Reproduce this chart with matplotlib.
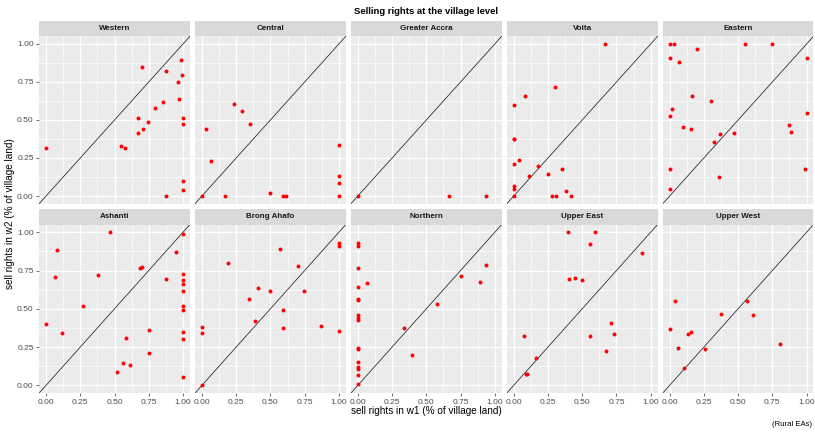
import numpy as np
import matplotlib
matplotlib.use("Agg")
import matplotlib.pyplot as plt

plt.rcParams['font.family'] = ['Liberation Sans', 'DejaVu Sans']

# region names, in facet order
regions = ["Western", "Central", "Greater Accra", "Volta", "Eastern",
           "Ashanti", "Brong Ahafo", "Northern", "Upper East", "Upper West"]

# sell rights share, wave 1 (x) and wave 2 (y)
western_w1 = [0.0, 0.70, 0.873, 0.983, 0.995, 0.961, 0.968, 1.0, 1.0, 0.851,
              0.793, 0.746, 0.671, 0.710, 0.668, 0.546, 0.580, 1.0, 1.0, 0.876]
western_w2 = [0.318, 0.849, 0.825, 0.893, 0.798, 0.752, 0.636, 0.513, 0.476, 0.616,
              0.581, 0.487, 0.511, 0.439, 0.412, 0.327, 0.318, 0.101, 0.039, 0.0]

central_w1 = [0.0, 0.029, 0.063, 0.165, 0.231, 0.294, 0.352, 0.498, 0.595, 0.614,
              1.0, 1.0, 1.0, 1.0]
central_w2 = [0.0, 0.439, 0.228, 0.0, 0.605, 0.561, 0.476, 0.022, 0.0, 0.0,
              0.336, 0.134, 0.083, 0.0]

accra_w1 = [0.0, 0.669, 0.939]
accra_w2 = [0.0, 0.0, 0.0]

volta_w1 = [0.663, 0.298, 0.085, 0.0, 0.0, 0.0, 0.036, 0.0, 0.179, 0.351,
            0.247, 0.109, 0.0, 0.0, 0.0, 0.278, 0.312, 0.385, 0.416]
volta_w2 = [1.0, 0.715, 0.660, 0.601, 0.377, 0.373, 0.237, 0.208, 0.195, 0.180,
            0.143, 0.134, 0.064, 0.044, 0.0, 0.0, 0.0, 0.031, 0.0]

eastern_w1 = [0.0, 0.034, 0.197, 0.552, 0.749, 0.0, 0.071, 1.0, 0.163, 0.302,
              0.015, 0.0, 1.0, 0.097, 0.153, 0.873, 0.886, 0.367, 0.472, 0.326,
              0.0, 0.990, 0.358, 0.0]
eastern_w2 = [1.0, 1.0, 0.969, 1.0, 1.0, 0.906, 0.879, 0.906, 0.660, 0.627,
              0.575, 0.529, 0.546, 0.452, 0.443, 0.465, 0.421, 0.408, 0.412, 0.357,
              0.180, 0.180, 0.125, 0.048]

ashanti_w1 = [0.467, 1.0, 0.083, 0.949, 0.068, 0.382, 0.686, 0.703, 1.0, 1.0,
              1.0, 1.0, 0.873, 0.273, 1.0, 1.0, 0.0, 0.117, 0.749, 1.0,
              0.582, 1.0, 0.749, 0.564, 0.616, 0.518, 1.0]
ashanti_w2 = [1.0, 0.989, 0.885, 0.869, 0.710, 0.721, 0.767, 0.771, 0.730, 0.686,
              0.664, 0.619, 0.695, 0.516, 0.516, 0.490, 0.401, 0.342, 0.359, 0.346,
              0.307, 0.303, 0.214, 0.146, 0.133, 0.087, 0.052]

brong_w1 = [0.0, 0.0, 0.0, 0.192, 0.569, 0.703, 1.0, 1.0, 0.409, 0.494,
            0.345, 0.745, 0.589, 0.384, 0.589, 0.873, 1.0]
brong_w2 = [0.0, 0.383, 0.344, 0.797, 0.889, 0.780, 0.928, 0.913, 0.634, 0.619,
            0.564, 0.614, 0.490, 0.418, 0.375, 0.388, 0.353]

northern_w1 = [0.0] * 16 + [0.068, 0.337, 0.398, 0.580, 0.755, 0.893, 0.939]
northern_w2 = [0.932, 0.908, 0.767, 0.643, 0.562, 0.556, 0.458, 0.442, 0.427, 0.246,
               0.240, 0.150, 0.122, 0.109, 0.070, 0.011,
               0.669, 0.373, 0.196, 0.534, 0.712, 0.678, 0.784]

ueast_w1 = [0.398, 0.597, 0.556, 0.939, 0.403, 0.447, 0.495, 0.709, 0.735, 0.558,
            0.075, 0.677, 0.160, 0.095, 0.088]
ueast_w2 = [1.0, 1.0, 0.924, 0.865, 0.695, 0.701, 0.691, 0.405, 0.338, 0.320,
            0.325, 0.222, 0.181, 0.076, 0.074]

uwest_w1 = [0.039, 0.564, 0.377, 0.606, 0.0, 0.158, 0.131, 0.058, 0.255, 0.808, 0.102]
uwest_w2 = [0.551, 0.551, 0.468, 0.460, 0.366, 0.346, 0.333, 0.244, 0.235, 0.272, 0.111]

xs = [western_w1, central_w1, accra_w1, volta_w1, eastern_w1,
      ashanti_w1, brong_w1, northern_w1, ueast_w1, uwest_w1]
ys = [western_w2, central_w2, accra_w2, volta_w2, eastern_w2,
      ashanti_w2, brong_w2, northern_w2, ueast_w2, uwest_w2]

ticks = [0.0, 0.25, 0.5, 0.75, 1.0]
tick_labels = ["0.00", "0.25", "0.50", "0.75", "1.00"]

W, H = 815, 432
fig = plt.figure(figsize=(W / 100, H / 100), dpi=100)

# layout in pixels
lefts = [39.2 + i * 155.9 for i in range(5)]
pw = 150.6
rows = [(21.0, 36.4, 203.6), (209.0, 224.6, 393.0)]  # strip top, panel top, panel bottom

def px(l, t, w, h):
    return [l / W, 1 - (t + h) / H, w / W, h / H]

for k, name in enumerate(regions):
    r, c = divmod(k, 5)
    st, pt, pb = rows[r]
    ax = fig.add_axes(px(lefts[c], pt, pw, pb - pt))
    ax.set_facecolor("#EBEBEB")
    for s in ax.spines.values():
        s.set_visible(False)
    ax.set_xlim(-0.05, 1.05)
    ax.set_ylim(-0.05, 1.05)
    ax.set_xticks(ticks)
    ax.set_yticks(ticks)
    minor = [0.125, 0.375, 0.625, 0.875]
    ax.set_xticks(minor, minor=True)
    ax.set_yticks(minor, minor=True)
    ax.grid(which="major", color="white", lw=0.9)
    ax.grid(which="minor", color="white", lw=0.45)
    ax.set_axisbelow(True)
    ax.tick_params(which="minor", length=0)
    ax.tick_params(which="major", length=2.5, width=0.5, color="#333333",
                   labelsize=6.0, labelcolor="#4D4D4D", pad=1.5)
    if c == 0:
        ax.set_yticklabels(tick_labels)
    else:
        ax.tick_params(axis="y", length=0, labelleft=False)
    if r == 1:
        ax.set_xticklabels(tick_labels)
    else:
        ax.tick_params(axis="x", length=0, labelbottom=False)

    ax.plot([-0.05, 1.05], [-0.05, 1.05], color="#222222", lw=0.55, zorder=2)
    ax.scatter(xs[k], ys[k], s=8, color="red", linewidths=0, zorder=3)

    # facet strip
    sax = fig.add_axes(px(lefts[c], st, pw, pt - st))
    sax.set_facecolor("#D9D9D9")
    sax.set_xticks([])
    sax.set_yticks([])
    for s in sax.spines.values():
        s.set_visible(False)
    sax.text(0.5, 0.5, name, ha="center", va="center", fontsize=5.8,
             fontweight="bold", color="#1A1A1A", transform=sax.transAxes)

fig.text(426 / W, 1 - 11 / H, "Selling rights at the village level",
         ha="center", va="center", fontsize=6.8, fontweight="bold")
fig.text(426 / W, 1 - 411 / H, "sell rights in w1 (% of village land)",
         ha="center", va="center", fontsize=7.2)
fig.text(10 / W, 1 - 214 / H, "sell rights in w2 (% of village land)",
         ha="center", va="center", fontsize=7.2, rotation=90)
fig.text(812 / W, 1 - 425 / H, "(Rural EAs)", ha="right", va="center", fontsize=5.6)

fig.savefig("out.png", dpi=100)
